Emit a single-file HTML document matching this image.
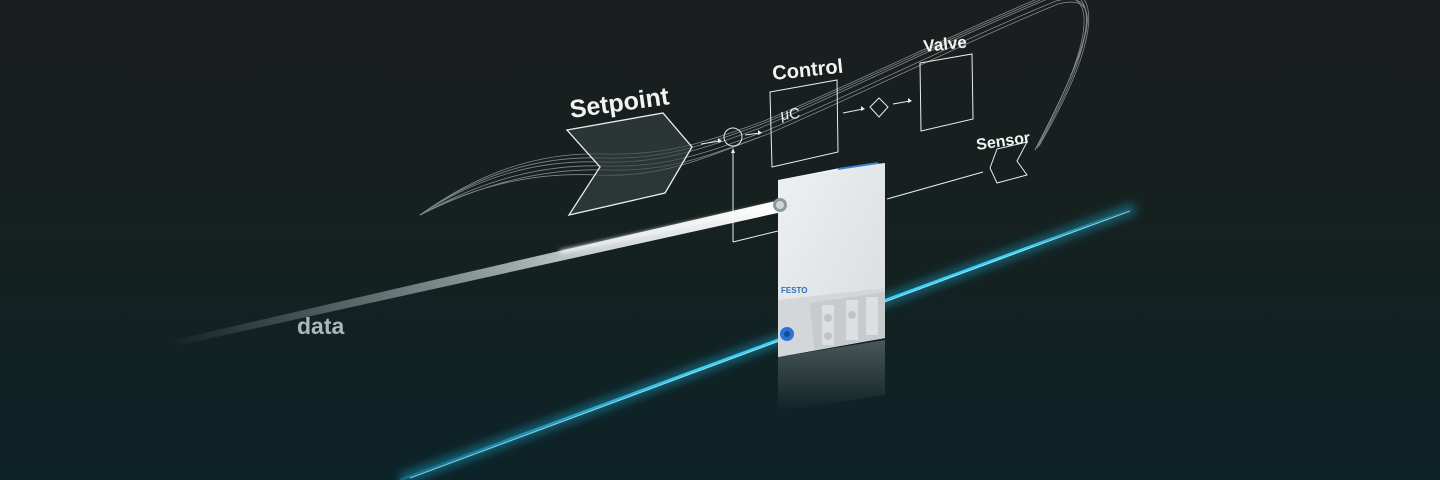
<!DOCTYPE html>
<html><head><meta charset="utf-8"><style>
html,body{margin:0;padding:0;background:#171c1e;}
svg{display:block}
text{font-family:"Liberation Sans",sans-serif;font-weight:bold;fill:#f2f4f4}
</style></head><body>
<svg width="1440" height="480" viewBox="0 0 1440 480" xmlns="http://www.w3.org/2000/svg">
<defs>
<linearGradient id="bg" x1="0" y1="0" x2="0" y2="1">
<stop offset="0" stop-color="#1b1d1f"/><stop offset="0.45" stop-color="#16211f"/><stop offset="1" stop-color="#0d2227"/>
</linearGradient>
<linearGradient id="beam" x1="165" y1="340" x2="780" y2="205" gradientUnits="userSpaceOnUse">
<stop offset="0" stop-color="#8aa0a0" stop-opacity="0"/><stop offset="0.3" stop-color="#9aaeae" stop-opacity="0.5"/><stop offset="0.7" stop-color="#e0e8e8" stop-opacity="0.9"/><stop offset="1" stop-color="#ffffff"/>
</linearGradient>
<linearGradient id="cy" x1="400" y1="480" x2="1135" y2="208" gradientUnits="userSpaceOnUse">
<stop offset="0" stop-color="#1aa8d8" stop-opacity="0.3"/><stop offset="0.4" stop-color="#3ad0f5"/><stop offset="0.85" stop-color="#3ad0f5"/><stop offset="1" stop-color="#3ad0f5" stop-opacity="0"/>
</linearGradient>
<filter id="glow" x="-20%" y="-50%" width="140%" height="200%"><feGaussianBlur stdDeviation="5"/></filter>
<filter id="bl" x="-20%" y="-20%" width="140%" height="140%"><feGaussianBlur stdDeviation="2"/></filter>
<linearGradient id="dev" x1="0" y1="0" x2="1" y2="1">
<stop offset="0" stop-color="#eef0f1"/><stop offset="1" stop-color="#d8dcde"/>
</linearGradient>
<linearGradient id="refl" x1="0" y1="0" x2="0" y2="1">
<stop offset="0" stop-color="#8c979c" stop-opacity="0.45"/><stop offset="1" stop-color="#8c979c" stop-opacity="0"/>
</linearGradient>
</defs>
<rect width="1440" height="480" fill="url(#bg)"/>

<path d="M400 480 L1135 208" stroke="#1ec0ee" stroke-width="10" opacity="0.45" filter="url(#glow)"/>
<path d="M400 480 L1135 208" stroke="url(#cy)" stroke-width="3"/>
<path d="M410 478 L1130 211" stroke="#bff2ff" stroke-width="1" opacity="0.7"/>

<g fill="none" stroke="#c8cfcf" stroke-width="0.8" opacity="0.6">
<path d="M420 215 C480 175 540 160 600 162 C660 164 700 150 760 128 C860 85 960 35 1050 -2 C1100 -15 1095 40 1035 150"/>
<path d="M420 215 C482 172 542 156 602 158 C662 160 702 146 762 124 C862 82 962 32 1052 -5 C1102 -18 1098 40 1037 148"/>
<path d="M420 215 C484 169 544 152 604 154 C664 156 704 143 764 121 C864 79 964 29 1054 -8 C1104 -20 1101 40 1039 146"/>
<path d="M420 215 C486 178 546 164 606 166 C666 168 706 153 766 131 C866 88 966 38 1056 1 C1106 -12 1092 42 1035 150"/>
<path d="M420 215 C488 181 548 168 608 170 C668 172 708 156 768 134 C868 91 968 41 1058 4 C1108 -9 1090 44 1035 150"/>
<path d="M420 215 C478 184 538 172 598 175 C658 178 700 160 760 137"/>
</g>

<polygon points="567,130 663,113 692,147 665,193 569,215 600,167" fill="#3a4446" fill-opacity="0.6" stroke="#e8eeee" stroke-width="1.3"/>
<text x="571" y="118" font-size="25" transform="rotate(-8 571 118)">Setpoint</text>

<g stroke="#e8eeee" stroke-width="1" fill="none">
<path d="M701 144 L720 141"/><path d="M745 135 L760 133"/>
<circle cx="733" cy="137" r="9"/>
<path d="M733 242 L733 151"/><path d="M733 242 L778 231"/>
<path d="M843 113 L863 109"/><path d="M893 104 L910 101"/>
<polygon points="879,98 888,107 879,117 870,107"/>
<polygon points="770,92 837,80 838,152 772,167"/>
<polygon points="920,63 972,54 973,119 921,131"/>
<polygon points="990,168 997,149 1027,142 1017,161 1027,175 997,183"/>
<path d="M983 172 L887 199"/>
</g>
<g fill="#e8eeee"><polygon points="722,141 718,138 718,143"/><polygon points="762,133 758,130 758,135"/><polygon points="733,148 731,153 735,153"/><polygon points="865,109 861,106 861,111"/><polygon points="912,101 908,98 908,103"/></g>
<text x="773" y="80" font-size="20" transform="rotate(-6 773 80)">Control</text>
<text x="781" y="120" font-size="15" transform="rotate(-6 781 120)" style="font-weight:normal">μC</text>
<text x="924" y="52" font-size="17" transform="rotate(-6 924 52)">Valve</text>
<text x="977" y="150" font-size="16" transform="rotate(-8 977 150)">Sensor</text>

<polygon points="165,342 780,200 782,212 180,345" fill="url(#beam)"/>
<path d="M560 252 L780 204" stroke="#ffffff" stroke-width="3" filter="url(#bl)"/>
<text x="297" y="334" font-size="23" style="fill:#a9b8b8">data</text>

<polygon points="778,357 885,340 885,395 778,412" fill="url(#refl)"/>
<polygon points="778,180 840,168 885,163 825,175" fill="#f6f7f8"/>
<polygon points="778,180 885,163 885,338 778,357" fill="url(#dev)"/>
<polygon points="778,300 885,288 885,338 778,357" fill="#d3d7da"/>
<polygon points="810,303 885,292 885,338 814,350" fill="#c6cbce"/>
<rect x="822" y="305" width="12" height="40" fill="#dde0e2"/><rect x="846" y="300" width="12" height="40" fill="#dde0e2"/><rect x="866" y="297" width="12" height="38" fill="#dde0e2"/>
<circle cx="828" cy="318" r="4" fill="#bfc4c7"/><circle cx="852" cy="315" r="4" fill="#bfc4c7"/><circle cx="828" cy="336" r="4" fill="#bfc4c7"/>
<text x="781" y="293" font-size="8" style="fill:#2a6fc0">FESTO</text>
<polygon points="838,168 878,162 878,164 838,170" fill="#3a80d0"/>
<circle cx="787" cy="334" r="7" fill="#2a74d8"/><circle cx="787" cy="334" r="3" fill="#164a94"/>
<circle cx="780" cy="205" r="7" fill="#8f999d"/><circle cx="780" cy="205" r="4" fill="#d0d5d8"/>
</svg>
</body></html>
